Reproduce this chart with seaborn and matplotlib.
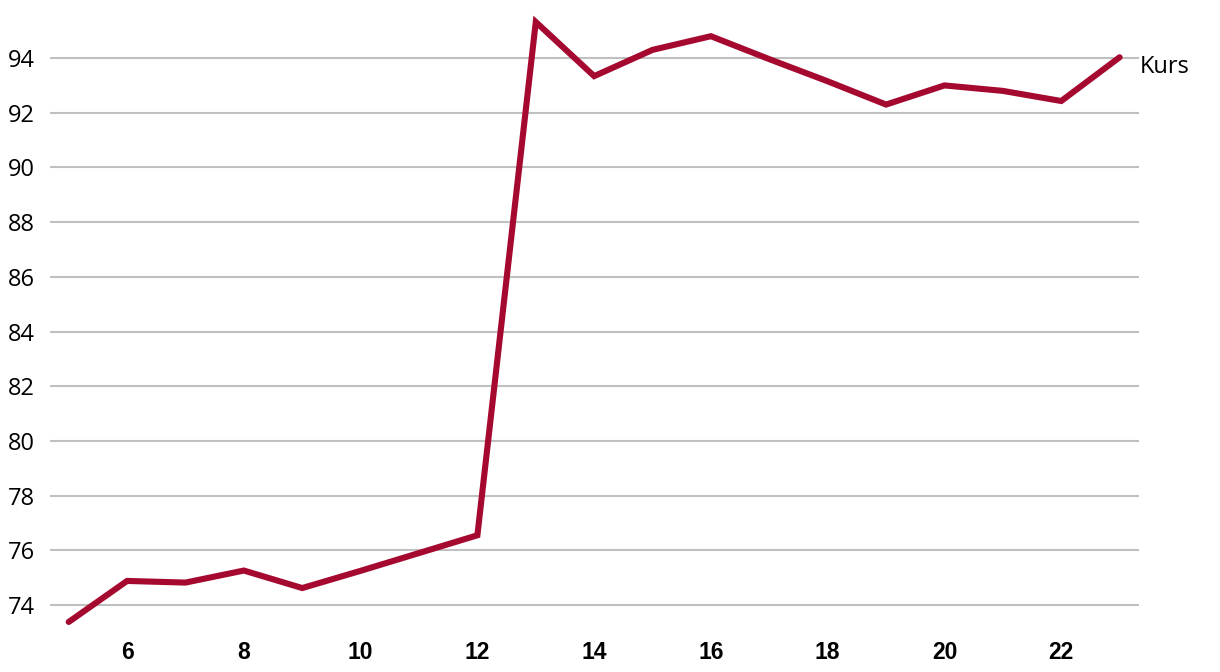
import pandas as pd
import seaborn as sns
import matplotlib.pyplot as plt
from matplotlib import font_manager

# values
days = [5, 6, 7, 8, 9, 10, 11, 12, 13, 14, 15, 16, 17, 18, 19, 20, 21, 22, 23]
kurs = [73.38, 74.88, 74.82, 75.26, 74.62, 75.25, 75.9, 76.55, 95.32, 93.34,
        94.3, 94.8, 93.96, 93.15, 92.3, 93.0, 92.8, 92.43, 94.03]
y_ticks = [74, 76, 78, 80, 82, 84, 86, 88, 90, 92, 94]
x_ticks = [6, 8, 10, 12, 14, 16, 18, 20, 22]
series_name = "Kurs"

df = pd.DataFrame({"day": days, "kurs": kurs})

# pick the regular-width Liberation Sans Bold (not the Narrow one)
bold_font = font_manager.FontProperties(family="Liberation Sans", weight="bold", size=16.5)
for f in font_manager.findSystemFonts():
    if f.endswith("LiberationSans-Bold.ttf"):
        bold_font = font_manager.FontProperties(fname=f, size=16.5)
        break

sns.set_style("white")
fig = plt.figure(figsize=(12.2, 6.72), dpi=100)
ax = fig.add_axes([0.041, 0.0625, 0.893, 0.9225])

sns.lineplot(data=df, x="day", y="kurs", ax=ax, color="#a6092f",
             linewidth=4.4, solid_joinstyle="miter", solid_capstyle="round")

ax.set_xlim(4.68, 23.34)
ax.set_ylim(73.086, 95.755)
ax.set_yticks(y_ticks)
ax.set_xticks(x_ticks)
ax.set_yticklabels([str(v) for v in y_ticks], family="Open Sans",
                   fontsize=17, color="black")
ax.set_xticklabels([str(v) for v in x_ticks], fontproperties=bold_font,
                   color="black")
ax.tick_params(axis="y", length=0, pad=11)
ax.tick_params(axis="x", length=0, pad=8)
ax.yaxis.grid(True, color="#c0c0c0", linewidth=1.5)
ax.xaxis.grid(False)
ax.set_axisbelow(True)
for s in ax.spines.values():
    s.set_visible(False)
ax.set_xlabel("")
ax.set_ylabel("")

ax.annotate(series_name, xy=(days[-1], kurs[-1]), xytext=(20, -10),
            textcoords="offset pixels", ha="left", va="center",
            family="Open Sans", fontsize=17, color="black",
            annotation_clip=False)

fig.savefig("out.png", dpi=100)
